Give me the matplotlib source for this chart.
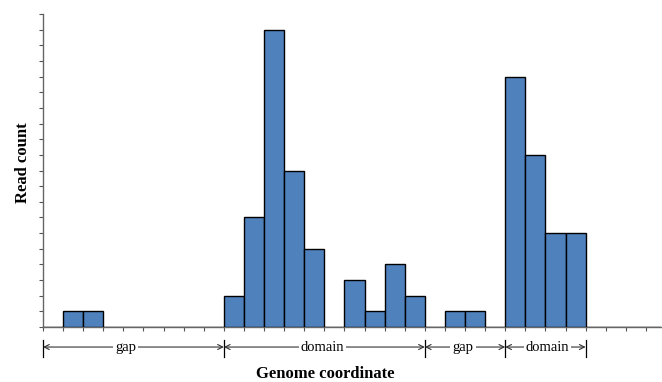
import numpy as np
import matplotlib
matplotlib.use("Agg")
import matplotlib.pyplot as plt
import matplotlib.transforms as mtransforms

# read counts per genome bin (bin index = left edge)
bins = list(range(31))
counts = [0, 1, 1, 0, 0, 0, 0, 0, 0, 2, 7, 19, 10, 5, 0, 3, 1, 4, 2, 0,
          1, 1, 0, 16, 11, 6, 6, 0, 0, 0, 0]

# segment annotations below the axis: (start bin, end bin, label, label position)
seg_start = [0, 9, 19, 23]
seg_end = [9, 19, 23, 27]
seg_label = ["gap", "domain", "gap", "domain"]
seg_label_x = [4.1, 13.9, 20.9, 25.1]

plt.rcParams['font.family'] = ['Liberation Serif', 'DejaVu Serif']

fig = plt.figure(figsize=(6.62, 3.82), dpi=100)
ax = fig.add_axes([43 / 662, 55 / 382, 618 / 662, 313 / 382])

ax.bar(bins, counts, width=1, align='edge', color='#4F81BD',
       edgecolor='black', linewidth=1.0, zorder=3)

ax.set_xlim(0, 30.75)
ax.set_ylim(0, 20)
ax.set_xticks(np.arange(0, 31))
ax.set_yticks(np.arange(0, 21))
ax.set_xticklabels([])
ax.set_yticklabels([])
ax.tick_params(axis='both', direction='out', length=3, width=0.8, color='#555555')

for s in ['top', 'right']:
    ax.spines[s].set_visible(False)
for s in ['left', 'bottom']:
    ax.spines[s].set_color('#666666')
    ax.spines[s].set_linewidth(1.0)

trans = mtransforms.blended_transform_factory(ax.transData, ax.transAxes)
y_arr = -0.064
for x0, x1, lab, lx in zip(seg_start, seg_end, seg_label, seg_label_x):
    ax.annotate('', xy=(x0, y_arr), xytext=(x1, y_arr), xycoords=trans,
                textcoords=trans,
                arrowprops=dict(arrowstyle='<->', color='#333333', lw=0.8,
                                shrinkA=0, shrinkB=0, mutation_scale=9),
                annotation_clip=False)
    ax.text(lx, y_arr, lab, transform=trans, ha='center', va='center',
            fontsize=10.5, bbox=dict(fc='white', ec='none', pad=1.5),
            clip_on=False, zorder=5)

for xb in sorted(set(seg_start + seg_end)):
    ax.plot([xb, xb], [-0.04, -0.095], transform=trans, color='black',
            lw=0.9, clip_on=False)

ax.set_xlabel('Genome coordinate', fontsize=12, fontweight='bold', va='center')
ax.xaxis.set_label_coords(0.456, -0.150)
ax.set_ylabel('Read count', fontsize=12, fontweight='bold', va='center')
ax.yaxis.set_label_coords(-0.033, 0.525)

fig.savefig('out.png', dpi=100)
